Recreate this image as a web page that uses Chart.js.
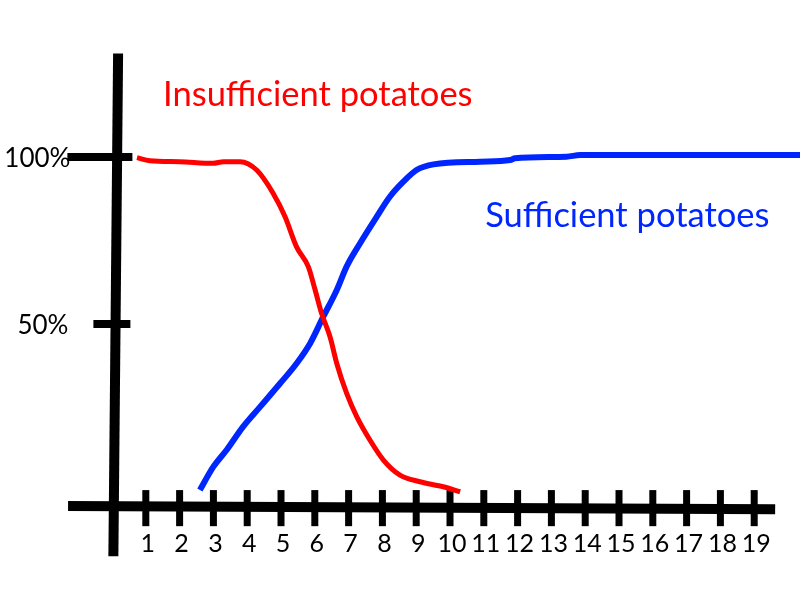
<!DOCTYPE html>
<html><head><meta charset="utf-8">
<script src="https://cdn.jsdelivr.net/npm/chart.js@4/dist/chart.umd.min.js"></script>
<style>html,body{margin:0;padding:0;background:#fff;overflow:hidden}canvas{display:block}</style>
</head><body>
<canvas id="c" width="800" height="600"></canvas>
<script>
// ---- data ----
const xTickValues = [1,2,3,4,5,6,7,8,9,10,11,12,13,14,15,16,17,18,19];
const xTickLabels = ['1','2','3','4','5','6','7','8','9','10','11','12','13','14','15','16','17','18','19'];
const yTickValues = [100, 50];
const yTickLabels = ['100%', '50%'];
const seriesNames = ['Insufficient potatoes', 'Sufficient potatoes'];
const insufficientX = [0.74, 1.12, 2.0, 2.99, 3.3, 3.79, 4.28, 4.77, 5.12, 5.46, 5.81, 6.01, 6.20, 6.45, 6.65, 6.94, 7.24, 7.63, 8.03, 8.52, 9.11, 9.80, 10.30];
const insufficientY = [99.8, 98.9, 98.6, 98.1, 98.6, 98.6, 96.1, 89.1, 82.1, 73.1, 67.1, 60.2, 53.2, 46.2, 38.2, 29.3, 22.3, 15.3, 9.3, 4.8, 2.8, 1.3, -0.2];
const sufficientX = [2.60, 3.00, 3.39, 3.88, 4.38, 4.97, 5.46, 5.86, 6.25, 6.65, 6.94, 7.34, 7.83, 8.22, 8.62, 9.01, 9.51, 10.89, 11.78, 11.92, 13.45, 13.85, 20.4];
const sufficientY = [0.3, 7.3, 12.3, 19.3, 25.2, 32.2, 38.2, 44.2, 52.2, 60.2, 67.2, 74.2, 82.1, 88.1, 92.6, 96.1, 97.8, 98.6, 99.1, 99.6, 100.1, 100.6, 100.6];

const RED = '#ff0000', BLUE = '#0026ff';
const FONT = 'Lato, "Open Sans", sans-serif';

function pts(xs, ys){ return xs.map((x,i)=>({x:x, y:ys[i]})); }

const handAxes = {
  id: 'handAxes',
  beforeDatasetsDraw(chart){
    const ctx = chart.ctx, sx = chart.scales.x, sy = chart.scales.y;
    ctx.save();
    ctx.strokeStyle = '#000';
    ctx.lineCap = 'butt';
    // horizontal axis
    ctx.lineWidth = 10;
    ctx.beginPath();
    ctx.moveTo(sx.getPixelForValue(-1.30), sy.getPixelForValue(-4.5));
    ctx.lineTo(sx.getPixelForValue(19.62), sy.getPixelForValue(-5.4));
    ctx.stroke();
    // vertical axis
    ctx.beginPath();
    ctx.moveTo(sx.getPixelForValue(0.18), sy.getPixelForValue(131));
    ctx.lineTo(sx.getPixelForValue(0.04), sy.getPixelForValue(-19.5));
    ctx.stroke();
    // x ticks
    ctx.lineWidth = 7;
    xTickValues.forEach(v => {
      const px = sx.getPixelForValue(v);
      ctx.beginPath();
      ctx.moveTo(px, sy.getPixelForValue(0.3));
      ctx.lineTo(px, sy.getPixelForValue(-10.5));
      ctx.stroke();
    });
    // y ticks
    const ax = sx.getPixelForValue(0.1);
    const ext = [[-48, 17], [-22, 15]];
    ctx.lineWidth = 8;
    yTickValues.forEach((v, i) => {
      const py = sy.getPixelForValue(v);
      ctx.beginPath();
      ctx.moveTo(ax + ext[i][0], py);
      ctx.lineTo(ax + ext[i][1], py);
      ctx.stroke();
    });
    ctx.restore();
  },
  afterDatasetsDraw(chart){
    const ctx = chart.ctx, sx = chart.scales.x, sy = chart.scales.y;
    ctx.save();
    ctx.fillStyle = '#000';
    ctx.textBaseline = 'alphabetic';
    ctx.font = '25px ' + FONT;
    ctx.textAlign = 'center';
    const by = sy.getPixelForValue(-18.2);
    xTickValues.forEach((v, i) => {
      ctx.fillText(xTickLabels[i], sx.getPixelForValue(v) + 2, by);
    });
    ctx.font = '26px ' + FONT;
    ctx.textAlign = 'right';
    const ax = sx.getPixelForValue(0.1);
    yTickValues.forEach((v, i) => {
      ctx.fillText(yTickLabels[i], ax - 45 + (i ? -2 : 0), sy.getPixelForValue(v) + 10);
    });
    ctx.textAlign = 'left';
    ctx.font = '34.5px ' + FONT;
    ctx.fillStyle = RED;
    ctx.fillText(seriesNames[0], sx.getPixelForValue(1.51), sy.getPixelForValue(115.3));
    ctx.fillStyle = BLUE;
    ctx.fillText(seriesNames[1], sx.getPixelForValue(11.04), sy.getPixelForValue(79));
    ctx.restore();
  }
};

new Chart(document.getElementById('c'), {
  type: 'line',
  data: {
    datasets: [
      { label: seriesNames[0], data: pts(insufficientX, insufficientY), borderColor: RED, borderWidth: 5, cubicInterpolationMode: 'monotone', pointRadius: 0, fill: false },
      { label: seriesNames[1], data: pts(sufficientX, sufficientY), borderColor: BLUE, borderWidth: 6, cubicInterpolationMode: 'monotone', pointRadius: 0, fill: false }
    ]
  },
  options: {
    responsive: false,
    animation: false,
    layout: { padding: 0 },
    plugins: { legend: { display: false }, tooltip: { enabled: false } },
    scales: {
      x: { type: 'linear', min: -3.314, max: 20.355, display: false },
      y: { type: 'linear', min: -32.6, max: 147, display: false }
    }
  },
  plugins: [handAxes]
});
</script>
</body></html>
